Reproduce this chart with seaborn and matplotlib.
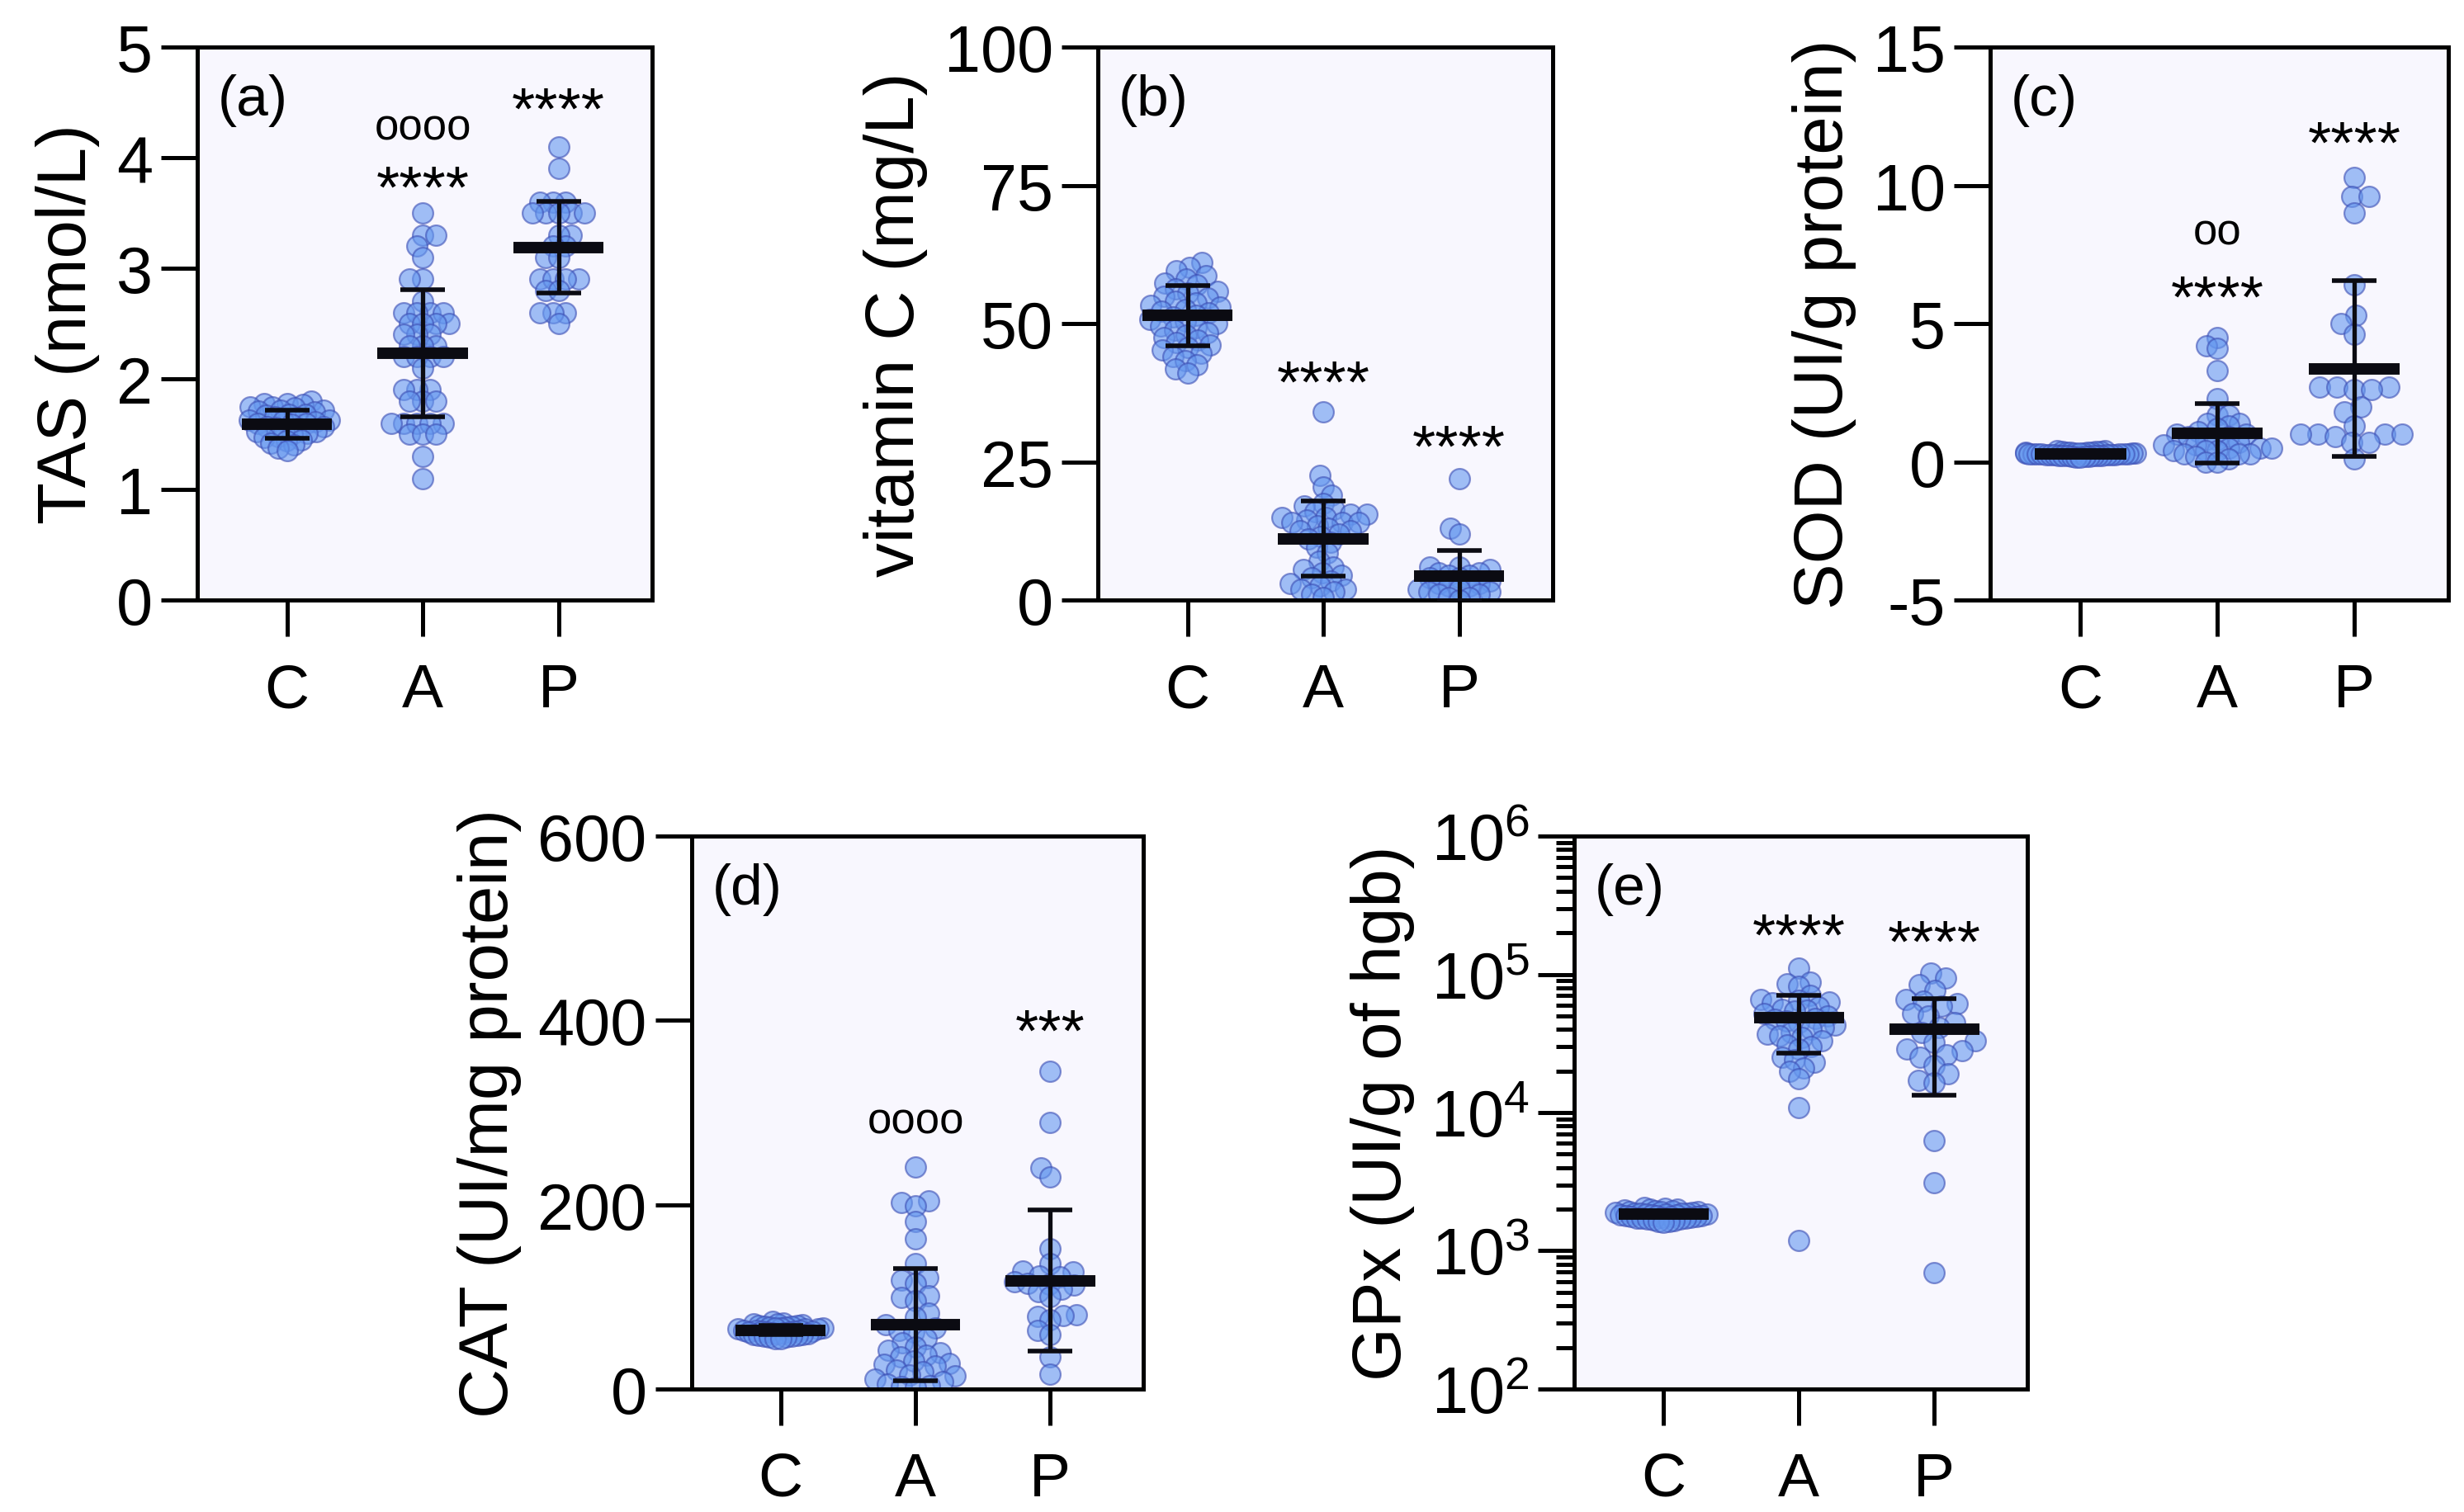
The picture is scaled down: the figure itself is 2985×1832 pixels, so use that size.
import numpy as np
import matplotlib
matplotlib.use('Agg')
import matplotlib.pyplot as plt
import seaborn as sns
from matplotlib.collections import PathCollection
from matplotlib.ticker import FixedLocator, LogLocator, NullFormatter

sns.set_theme(style='ticks')
plt.rcParams['font.family'] = ['Liberation Sans', 'DejaVu Sans']
plt.rcParams['axes.unicode_minus'] = False
plt.rcParams['mathtext.default'] = 'regular'

groups = ['C', 'A', 'P']

# (a) TAS, nmol/L
tas_C = [1.80, 1.78, 1.78, 1.77, 1.75, 1.75, 1.74, 1.72, 1.72, 1.71, 1.70, 1.68, 1.68,
         1.67, 1.66, 1.65, 1.63, 1.63, 1.62, 1.61, 1.60, 1.60, 1.59, 1.57, 1.57, 1.56,
         1.55, 1.54, 1.52, 1.52, 1.51, 1.50, 1.48, 1.47, 1.45, 1.44, 1.42, 1.40, 1.37, 1.35]
tas_A = [3.5, 3.3, 3.3, 3.2, 3.1, 2.9, 2.9, 2.7, 2.6, 2.6, 2.6, 2.6, 2.5, 2.5, 2.5, 2.5,
         2.4, 2.4, 2.4, 2.3, 2.3, 2.3, 2.2, 2.2, 2.2, 2.2, 2.1, 1.9, 1.9, 1.9, 1.8, 1.8,
         1.8, 1.6, 1.6, 1.6, 1.6, 1.6, 1.5, 1.5, 1.5, 1.3, 1.1]
tas_P = [4.1, 3.9, 3.6, 3.6, 3.6, 3.5, 3.5, 3.5, 3.5, 3.5, 3.3, 3.3, 3.2, 3.2, 3.1, 3.1,
         2.9, 2.9, 2.9, 2.9, 2.8, 2.8, 2.6, 2.6, 2.6, 2.5]
tas_mean = [1.59, 2.23, 3.19]
tas_sd = [0.125, 0.575, 0.415]

# (b) vitamin C, mg/L
vitc_C = [61.0, 60.2, 59.5, 58.6, 58.1, 57.4, 57.0, 56.3, 55.9, 55.5, 55.0, 54.6, 54.1,
          53.8, 53.3, 53.0, 52.6, 52.2, 51.9, 51.5, 51.2, 50.8, 50.4, 50.0, 49.6, 49.3,
          48.8, 48.4, 47.9, 47.5, 47.0, 46.6, 46.1, 45.7, 45.2, 44.6, 44.0, 43.3, 42.5,
          41.8, 41.0]
vitc_A = [34.0, 22.5, 20.5, 19.0, 17.5, 17.0, 16.5, 16.0, 15.5, 15.5, 15.0, 15.0, 14.5,
          14.0, 14.0, 14.0, 13.5, 13.0, 12.5, 12.5, 12.0, 11.5, 11.0, 10.5, 9.5, 8.5,
          7.0, 6.0, 5.5, 5.0, 4.5, 4.0, 3.5, 3.0, 2.5, 2.0, 2.0, 1.5, 1.0, 0.5]
vitc_P = [22.0, 13.0, 12.0, 6.0, 6.0, 5.5, 5.0, 5.0, 4.5, 4.5, 4.0, 4.0, 3.5, 3.0, 3.0,
          2.5, 2.5, 2.0, 2.0, 1.5, 1.5, 1.0, 1.0, 0.5, 0.5, 0.0]
vitc_mean = [51.5, 11.1, 4.4]
vitc_sd = [5.45, 6.8, 4.6]

# (c) SOD, UI/g protein
sod_C = [0.42, 0.40, 0.39, 0.38, 0.37, 0.36, 0.36, 0.35, 0.34, 0.34, 0.33, 0.33, 0.32,
         0.32, 0.31, 0.31, 0.30, 0.30, 0.30, 0.29, 0.29, 0.28, 0.28, 0.27, 0.27, 0.26,
         0.26, 0.25, 0.25, 0.24, 0.24, 0.23, 0.23, 0.22, 0.22, 0.21, 0.20, 0.19, 0.18, 0.17]
sod_A = [4.5, 4.2, 4.1, 3.3, 2.3, 1.7, 1.7, 1.4, 1.4, 1.3, 1.2, 1.1, 1.0, 1.0, 0.9, 0.9,
         0.8, 0.8, 0.7, 0.6, 0.6, 0.5, 0.5, 0.5, 0.4, 0.4, 0.4, 0.3, 0.3, 0.3, 0.2, 0.1,
         0.0, 0.0]
sod_P = [10.3, 9.6, 9.6, 9.0, 6.4, 5.3, 5.0, 4.6, 2.7, 2.7, 2.7, 2.6, 2.6, 2.0, 1.8, 1.3,
         1.0, 1.0, 1.0, 1.0, 0.9, 0.7, 0.7, 0.1]
sod_mean = [0.30, 1.03, 3.37]
sod_sd = [0.06, 1.07, 3.18]

# (d) CAT, UI/mg protein
cat_C = [73, 72, 71, 71, 70, 69, 69, 68, 68, 67, 67, 66, 66, 66, 65, 65, 65, 64, 64, 64,
         63, 63, 63, 62, 62, 62, 61, 61, 60, 60, 59, 59, 58, 58, 57, 57, 56, 56, 55, 55]
cat_A = [241, 204, 202, 199, 182, 163, 136, 121, 118, 115, 101, 99, 96, 82, 78, 70, 66,
         64, 62, 55, 50, 46, 42, 39, 37, 35, 30, 28, 27, 25, 21, 19, 15, 14, 11, 8, 5, 4,
         3, 2]
cat_P = [345, 289, 240, 230, 152, 136, 128, 127, 123, 122, 116, 115, 114, 113, 108, 106,
         100, 81, 80, 79, 75, 64, 59, 35, 16]
cat_mean = [64, 69.4, 117.5]
cat_sd = [4.5, 60.9, 76.7]

# (e) GPx, UI/g of hgb
gpx_C = [2050, 2020, 2000, 1990, 1970, 1960, 1940, 1930, 1920, 1910, 1900, 1890, 1880,
         1870, 1860, 1860, 1850, 1840, 1840, 1830, 1820, 1810, 1800, 1800, 1790, 1780,
         1770, 1760, 1750, 1740, 1730, 1720, 1710, 1700, 1690, 1680, 1660, 1640, 1620, 1600]
gpx_A = [111000, 88000, 85000, 82000, 70000, 66000, 65000, 63000, 62000, 58000, 56000,
         55000, 54000, 52000, 50000, 48000, 47000, 46000, 45000, 43000, 41000, 40000,
         38000, 37000, 36000, 35000, 33000, 31000, 30000, 29000, 25000, 24000, 23000,
         21000, 20000, 17500, 10900, 1190]
gpx_P = [102000, 94000, 84000, 77000, 66000, 64000, 61000, 59000, 52000, 50000, 45000,
         41000, 38000, 33000, 32000, 29000, 28000, 26000, 25000, 22000, 19000, 17000,
         16500, 6300, 3100, 690]
gpx_mean = [1840, 48900, 39900]
gpx_sd = [60, 21850, 26500]

DOT = '#6497EF'
EDGE = '#3C4EB4'
BG = '#F8F7FE'
INK = '#0B0B12'

panels = [
    dict(rect=[0.0801, 0.6028, 0.1846, 0.3655], data=[tas_C, tas_A, tas_P],
         mean=tas_mean, sd=tas_sd, ylim=(0, 5), yticks=[0, 1, 2, 3, 4, 5],
         ylabel='TAS (nmol/L)', tag='(a)', swarm=[3.0, 4.6, 4.6],
         notes=[(1, 3.83, '****'), (1, 4.27, 'oooo'), (2, 4.54, '****')]),
    dict(rect=[0.4456, 0.6028, 0.1846, 0.3655], data=[vitc_C, vitc_A, vitc_P],
         mean=vitc_mean, sd=vitc_sd, ylim=(0, 100), yticks=[0, 25, 50, 75, 100],
         ylabel='vitamin C (mg/L)', tag='(b)', swarm=[4.5, 4.2, 3.6],
         notes=[(1, 41.4, '****'), (2, 29.7, '****')]),
    dict(rect=[0.8077, 0.6028, 0.1860, 0.3655], data=[sod_C, sod_A, sod_P],
         mean=sod_mean, sd=sod_sd, ylim=(-5, 15), yticks=[-5, 0, 5, 10, 15],
         ylabel='SOD (UI/g protein)', tag='(c)', swarm=[1.0, 4.0, 6.5],
         notes=[(1, 8.3, 'oo'), (1, 6.36, '****'), (2, 11.93, '****')]),
    dict(rect=[0.2807, 0.0813, 0.1833, 0.3655], data=[cat_C, cat_A, cat_P],
         mean=cat_mean, sd=cat_sd, ylim=(0, 600), yticks=[0, 200, 400, 600],
         ylabel='CAT (UI/mg protein)', tag='(d)', swarm=[1.5, 5.0, 4.8],
         notes=[(1, 291, 'oooo'), (2, 400.6, '***')]),
    dict(rect=[0.6389, 0.0813, 0.1840, 0.3655], data=[gpx_C, gpx_A, gpx_P],
         mean=gpx_mean, sd=gpx_sd, ylim=(1e2, 1e6), yticks=[1e2, 1e3, 1e4, 1e5, 1e6],
         ylabel='GPx (UI/g of hgb)', tag='(e)', swarm=[1.5, 4.3, 6.0], log=True,
         notes=[(1, 2.3e5, '****'), (2, 2.05e5, '****')]),
]

fig = plt.figure(figsize=(14.925, 9.165), dpi=200)
axes = []
for p in panels:
    ax = fig.add_axes(p['rect'])
    ax.set_facecolor(BG)
    if p.get('log'):
        ax.set_yscale('log')
    for g, vals, sz in zip(groups, p['data'], p['swarm']):
        sns.swarmplot(x=[g] * len(vals), y=vals, order=groups, size=sz, color=DOT,
                      alpha=0.6, edgecolor=EDGE, linewidth=0.8, ax=ax, zorder=2)
    pos = np.arange(len(groups))
    ax.hlines(p['mean'], pos - 0.333, pos + 0.333, colors=INK, lw=5.0, zorder=5)
    ax.errorbar(pos, p['mean'], yerr=p['sd'], fmt='none', ecolor=INK, elinewidth=1.9,
                capsize=9.7, capthick=2.0, zorder=5)

    ax.set_xlim(-0.66, 2.69)
    ax.set_ylim(*p['ylim'])
    ax.set_xticks(pos)
    ax.set_xticklabels(groups)
    if p.get('log'):
        ax.yaxis.set_major_locator(FixedLocator(p['yticks']))
        ax.set_yticklabels([r'$10^{%d}$' % int(np.log10(t)) for t in p['yticks']])
        ax.yaxis.set_minor_locator(LogLocator(base=10, subs=np.arange(2, 10)))
        ax.yaxis.set_minor_formatter(NullFormatter())
        ax.tick_params(axis='y', which='minor', length=8, width=1.8, color='black')
    else:
        ax.set_yticks(p['yticks'])
    ax.set_xlabel('')
    ax.set_ylabel(p['ylabel'], fontsize=30, labelpad=7, color='black')
    ax.tick_params(axis='x', which='major', length=16, width=1.8, pad=11, labelsize=27,
                   color='black', labelcolor='black')
    ax.tick_params(axis='x', which='minor', length=0)
    ax.tick_params(axis='y', which='major', length=16, width=1.8, pad=3.5, labelsize=28.5,
                   color='black', labelcolor='black')
    for s in ax.spines.values():
        s.set_linewidth(1.8)
        s.set_color('black')
        s.set_visible(True)

    ax.text(0.045, 0.905, p['tag'], transform=ax.transAxes, ha='left', va='center',
            fontsize=25, color='black')
    for gi, y, txt in p['notes']:
        if '*' in txt:
            ax.annotate(txt, (gi, y), xytext=(0, -6.5), textcoords='offset points',
                        ha='center', va='center', fontsize=26, color='black')
        else:
            ax.annotate(txt, (gi, y), ha='center', va='center', fontsize=19,
                        color='black')
    axes.append(ax)

# lay the swarms out with the small packing sizes, then show the dots at full size
fig.canvas.draw()
for ax in axes:
    for coll in ax.collections:
        if isinstance(coll, PathCollection):
            coll.__dict__.pop('draw', None)
            coll.set_sizes([80])

fig.savefig('out.png', dpi=200)
